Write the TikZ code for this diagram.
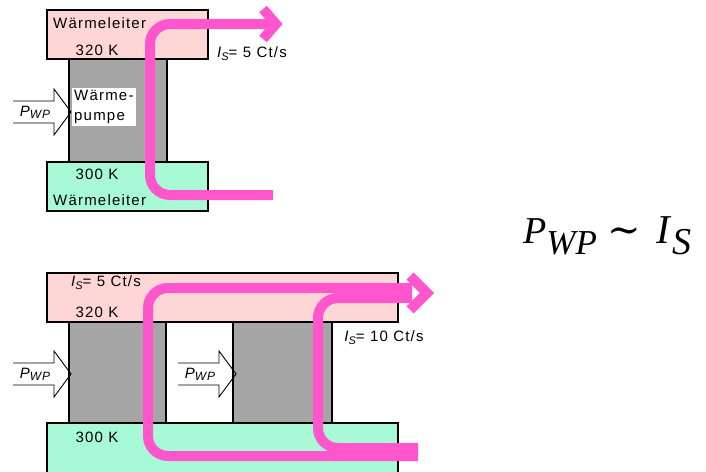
\documentclass[tikz,border=0pt]{standalone}
\usepackage{fontspec}
\setmainfont{Liberation Sans}
\newfontfamily\skizzefont[LetterSpace=8]{Liberation Sans}
\newfontfamily\formelfont{Liberation Serif}
\newfontfamily\tildefont{DejaVu Serif}
\usetikzlibrary{positioning}
\usepackage{xcolor}
\definecolor{warmrosa}{RGB}{255,214,214}
\definecolor{kaltgruen}{RGB}{168,250,214}
\definecolor{pumpengrau}{RGB}{166,166,166}
\definecolor{stromrosa}{RGB}{255,85,205}

\begin{document}
\begin{tikzpicture}[x=1pt, y=-1pt,
    leiter/.style={draw=black, line width=1.2pt},
    pumpe/.style={draw=black, line width=1.2pt, fill=pumpengrau},
    strom/.style={stromrosa, line width=10pt, rounded corners=20pt},
    spitze/.style={stromrosa, line width=10pt, line join=miter},
    hohlpfeil/.style={black, line width=0.9pt},
    beschrift/.style={font=\skizzefont\fontsize{15}{20}\selectfont, inner sep=1pt}
  ]
    \useasboundingbox (0,0) rectangle (706,471);

    % Obere Anordnung: eine Waermepumpe
    \filldraw[leiter, fill=warmrosa] (47,10) rectangle (208,59);
    \filldraw[pumpe] (69,59) rectangle (167,162);
    \filldraw[leiter, fill=kaltgruen] (47,162) rectangle (208,211);

    \node[beschrift, anchor=base west] (leiterOben) at (52,28) {Wärmeleiter};
    \node[beschrift] (tempOben) at (97,50) {320 K};
    \node[beschrift] (tempUnten) at (97,174) {300 K};
    \node[beschrift, anchor=base west] (leiterUnten) at (52,205) {Wärmeleiter};
    \node[beschrift, fill=white, align=left, anchor=north west, inner sep=2pt]
      (pumpentext) at (72,88) {Wärme-\\pumpe};

    % Entropiestrom oben
    \coordinate (einA) at (273,195);
    \coordinate (ausA) at (272,24);
    \draw[strom] (einA) -- (150,195) -- (150,24) -- (ausA);
    \draw[spitze] (263,9) -- (276,24) -- (263,39);
    \node[beschrift] (stromA) at (252,54)
      {{\itshape I\raisebox{-3pt}{\fontsize{11}{11}\selectfont S}}= 5 Ct/s};

    % Untere Anordnung: zwei Waermepumpen
    \filldraw[leiter, fill=warmrosa] (47,273) rectangle (398,322);
    \filldraw[pumpe] (69,322) rectangle (166,423);
    \filldraw[pumpe] (233,322) rectangle (332,423);
    \filldraw[leiter, fill=kaltgruen] (47,423) rectangle (398,480);

    \node[beschrift] (stromB) at (106,283)
      {{\itshape I\raisebox{-3pt}{\fontsize{11}{11}\selectfont S}}= 5 Ct/s};
    \node[beschrift] (tempObenB) at (97,312) {320 K};
    \node[beschrift] (tempUntenB) at (97,437) {300 K};
    \node[beschrift] (stromC) at (384,338)
      {{\itshape I\raisebox{-3pt}{\fontsize{11}{11}\selectfont S}}= 10 Ct/s};

    % Entropiestroeme unten
    \coordinate (einB) at (418,456);
    \coordinate (einC) at (418,448);
    \coordinate (ausB) at (412,288);
    \coordinate (ausC) at (412,298);
    \draw[strom] (einB) -- (148,456) -- (148,288) -- (ausB);
    \draw[strom] (einC) -- (318,448) -- (318,298) -- (ausC);
    \draw[spitze] (410,276) -- (427,293) -- (410,310);

    % Leistungspfeile P_WP
    \foreach \tx/\ty/\n in {71/112/a, 71/374/b, 236/374/c}{
      \draw[hohlpfeil] (\tx-58,\ty-11) -- (\tx-17,\ty-11) -- (\tx-17,\ty-23)
        -- (\tx,\ty) -- (\tx-17,\ty+23) -- (\tx-17,\ty+11) -- (\tx-58,\ty+11);
      \node[beschrift, font=\skizzefont\fontsize{15}{15}\selectfont\itshape]
        (pwp\n) at (\tx-36,\ty) {P\raisebox{-2pt}{\fontsize{12}{12}\selectfont WP}};
    }

    % Proportionalitaet
    \node[anchor=base west, inner sep=0pt,
          font=\formelfont\fontsize{38}{40}\selectfont] (formel) at (523,243)
      {\textit{P}\raisebox{-11pt}{\fontsize{35}{35}\selectfont\itshape WP}\hspace{11pt}{\tildefont\fontsize{40}{40}\selectfont ∼}\hspace{15pt}{\fontsize{41}{41}\selectfont\textit{I}}\hspace{1pt}\raisebox{-11pt}{\fontsize{38}{38}\selectfont\itshape S}};
  \end{tikzpicture}
\end{document}
